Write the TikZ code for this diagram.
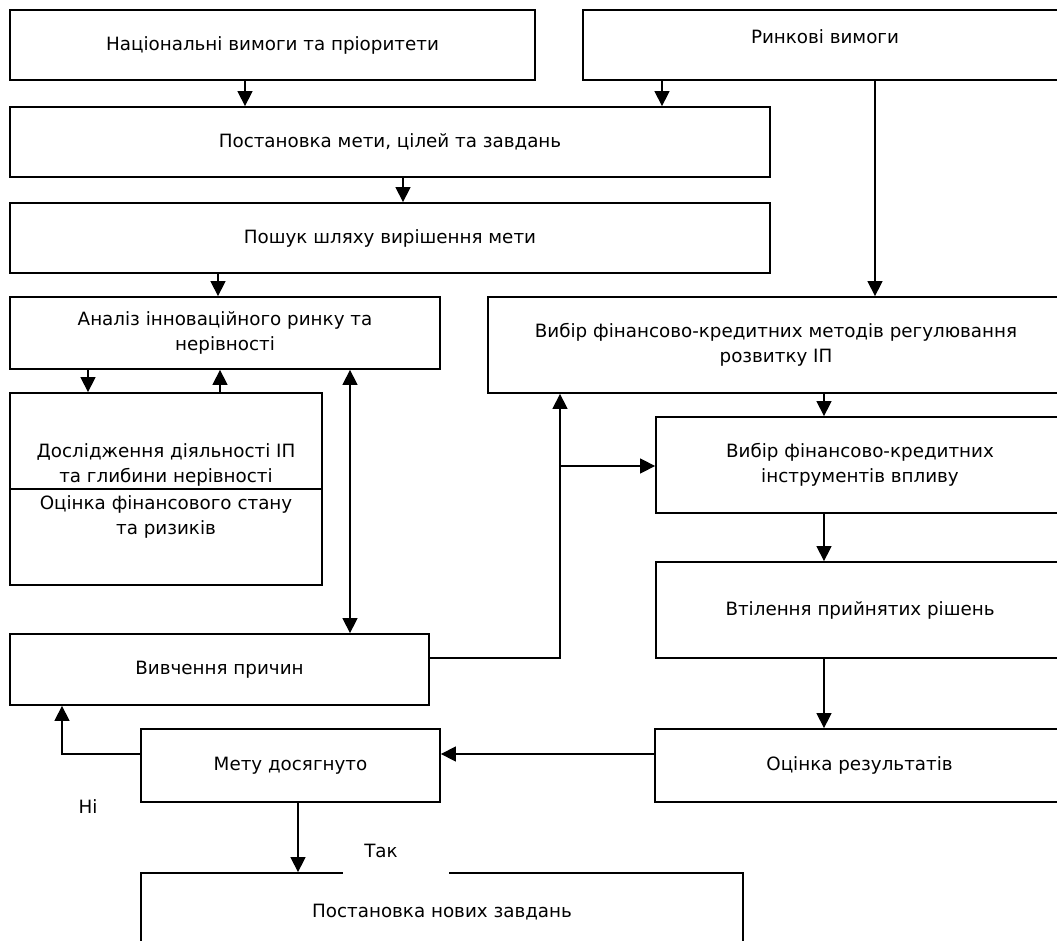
\documentclass[tikz,border=0pt]{standalone}
\usepackage{fontspec}
\setmainfont{DejaVu Sans}
\usetikzlibrary{arrows.meta}
\tikzset{
  box/.style={draw, line width=1.8pt, rectangle, inner sep=0pt, align=center, font=\fontsize{18.3}{24.5}\selectfont},
  txt/.style={inner sep=0pt, align=center, font=\fontsize{18.3}{24.5}\selectfont},
  conn/.style={line width=1.4pt},
  arr/.style={conn, -{Triangle[length=15pt,width=15pt]}},
  darr/.style={conn, {Triangle[length=15pt,width=15pt]}-{Triangle[length=15pt,width=15pt]}},
}
\begin{document}
\begin{tikzpicture}[x=1pt,y=-1pt]
\fill[white] (0,0) rectangle (1057,941);
\clip (0,0) rectangle (1057,941);
% boxes
\node[box, minimum width=525pt, minimum height=70pt] (A) at (272.5,45) {Національні вимоги та пріоритети};
\node[box, minimum width=481pt, minimum height=70pt] (B) at (823.5,45) {};
\node[txt] (Bt) at (825,37) {Ринкові вимоги};
\node[box, minimum width=760pt, minimum height=70pt] (C) at (390,142) {Постановка мети, цілей та завдань};
\node[box, minimum width=760pt, minimum height=70pt] (D) at (390,238) {Пошук шляху вирішення мети};
\node[box, minimum width=430pt, minimum height=72pt] (E) at (225,333) {Аналіз інноваційного ринку та\\нерівності};
\node[box, minimum width=576pt, minimum height=96pt] (F) at (776,345) {Вибір фінансово-кредитних методів регулювання\\розвитку ІП};
\node[box, minimum width=312pt, minimum height=192pt] (G) at (166,489) {};
\node[txt] (G1) at (166,465) {Дослідження діяльності ІП\\та глибини нерівності};
\node[txt] (G2) at (166,517) {Оцінка фінансового стану\\та ризиків};
\draw[line width=1.4pt] (G.west) -- (G.east);
\node[box, minimum width=419pt, minimum height=71pt] (H) at (219.5,669.5) {Вивчення причин};
\node[box, minimum width=408pt, minimum height=96pt] (I) at (860,465) {Вибір фінансово-кредитних\\інструментів впливу};
\node[box, minimum width=408pt, minimum height=96pt] (J) at (860,610) {Втілення прийнятих рішень};
\node[box, minimum width=409pt, minimum height=73pt] (K) at (859.5,765.5) {Оцінка результатів};
\node[box, minimum width=299pt, minimum height=73pt] (L) at (290.5,765.5) {Мету досягнуто};
\node[box, minimum width=602pt, minimum height=78pt] (M) at (442,912) {Постановка нових завдань};
% label backgrounds and labels
\node[fill=white, inner sep=0pt, minimum width=106pt, minimum height=49pt] (takbg) at (396,849.5) {};
\node[txt] (tak) at (381,851) {Так};
\node[txt] (ni) at (88,807) {Ні};
% guide coordinates
\coordinate (xa) at (245,0);
\coordinate (xb) at (662,0);
\coordinate (xc) at (403,0);
\coordinate (xd) at (218,0);
\coordinate (xr) at (875,0);
\coordinate (xe1) at (88,0);
\coordinate (xe2) at (220,0);
\coordinate (xe3) at (350,0);
\coordinate (xf) at (560,0);
\coordinate (xi) at (824,0);
\coordinate (xl) at (62,0);
\coordinate (xm) at (298,0);
\coordinate (yk) at (0,754);
\coordinate (yh) at (0,658);
\coordinate (yi) at (0,466);
\coordinate (hk) at (560,658);
\coordinate (ll) at (62,754);
% connectors
\draw[arr] (A.south -| xa) -- (C.north -| xa);
\draw[arr] (B.south -| xb) -- (C.north -| xb);
\draw[arr] (C.south -| xc) -- (D.north -| xc);
\draw[arr] (D.south -| xd) -- (E.north -| xd);
\draw[arr] (B.south -| xr) -- (F.north -| xr);
\draw[arr] (E.south -| xe1) -- (G.north -| xe1);
\draw[arr] (G.north -| xe2) -- (E.south -| xe2);
\draw[darr] (E.south -| xe3) -- (H.north -| xe3);
\draw[arr] (H.east |- yh) -- (hk) -- (F.south -| xf);
\draw[arr] (xf |- yi) -- (I.west |- yi);
\draw[arr] (F.south -| xi) -- (I.north -| xi);
\draw[arr] (I.south -| xi) -- (J.north -| xi);
\draw[arr] (J.south -| xi) -- (K.north -| xi);
\draw[arr] (K.west |- yk) -- (L.east |- yk);
\draw[arr] (L.west |- yk) -- (ll) -- (H.south -| xl);
\draw[arr] (L.south -| xm) -- (M.north -| xm);
\end{tikzpicture}
\end{document}
